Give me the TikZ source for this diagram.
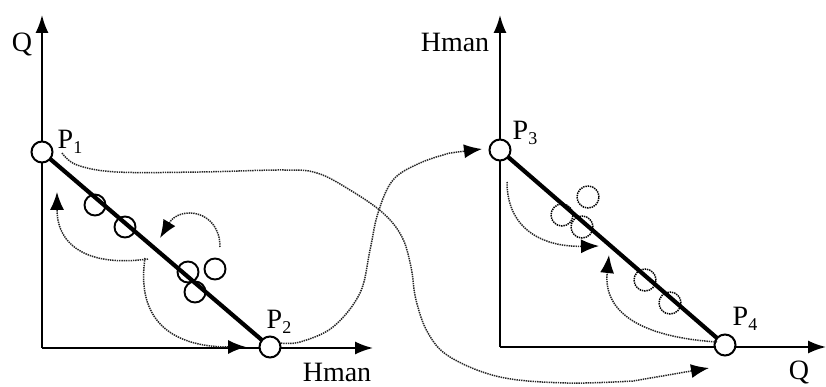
\documentclass[tikz,border=0pt]{standalone}
\usepackage{fontspec}
\setmainfont{Liberation Serif}
\usetikzlibrary{arrows.meta}
\tikzset{
  axis/.style={line width=1.8pt,-{Latex[length=18pt,width=13pt]}},
  thickline/.style={line width=4.2pt},
  pt/.style={circle,draw,line width=2pt,fill=white,minimum size=21pt,inner sep=0pt},
  mk/.style={circle,draw,line width=1.9pt,minimum size=21pt,inner sep=0pt},
  dmk/.style={circle,draw,line width=1.5pt,dash pattern=on 1.4pt off 0.9pt,minimum size=22pt,inner sep=0pt},
  dotarrow/.style={line width=1.5pt,black!85,dash pattern=on 1.4pt off 0.9pt,-{Latex[length=18pt,width=14pt,black]}},
  lbl/.style={font=\fontsize{28}{30}\selectfont,inner sep=0pt},
}
\newcommand{\psub}[2]{P\raisebox{-5pt}{\fontsize{18}{20}\selectfont #2}}
\begin{document}
\begin{tikzpicture}[x=1pt,y=1pt]
\useasboundingbox (0,0) rectangle (826,387);
% ---------- left panel ----------
\coordinate (lo) at (42,39);
\coordinate (ly) at (42,372);
\coordinate (lx) at (373,39);
\draw[axis] (lo) -- (ly);
\draw[axis] (lo) -- (lx);
\node[lbl] (lq) at (22,342) {Q};
\node[lbl] (lh) at (337,15) {Hman};
\coordinate (p1c) at (42,235);
\coordinate (p2c) at (270,40);
\draw[thickline] (p1c) -- (p2c);
\node[pt] (P1) at (p1c) {};
\node[pt] (P2) at (p2c) {};
\node[lbl] (P1l) at (70,245) {\psub{P}{1}};
\node[lbl] (P2l) at (279,65) {\psub{P}{2}};
\node[mk] (m1) at (95,182) {};
\node[mk] (m2) at (125,160) {};
\node[mk] (m3) at (188,115) {};
\node[mk] (m4) at (215,118) {};
\node[mk] (m5) at (195,95) {};
% dotted arrows left
\coordinate (a1s) at (148,128);
\coordinate (a1e) at (57,195);
\draw[dotarrow] (a1s) .. controls (90,120) and (57,140) .. (a1e);
\coordinate (a2s) at (220,140);
\coordinate (a2e) at (160,149);
\draw[dotarrow] (a2s) .. controls (220,177) and (180,182) .. (a2e);
\coordinate (a3s) at (145,129);
\coordinate (a3e) at (246,40);
\draw[dotarrow] (a3s) .. controls (135,60) and (180,40) .. (a3e);
% ---------- right panel ----------
\coordinate (ro) at (500,40);
\coordinate (ry) at (500,372);
\coordinate (rx) at (826,40);
\draw[axis] (ro) -- (ry);
\draw[axis] (ro) -- (rx);
\node[lbl] (rh) at (455,345) {Hman};
\node[lbl] (rq) at (799,14) {Q};
\coordinate (p3c) at (500,237);
\coordinate (p4c) at (725,42);
\draw[thickline] (p3c) -- (p4c);
\node[pt] (P3) at (p3c) {};
\node[pt] (P4) at (p4c) {};
\node[lbl] (P3l) at (525,254) {\psub{P}{3}};
\node[lbl] (P4l) at (745,68) {\psub{P}{4}};
\node[dmk] (d1) at (588,190) {};
\node[dmk] (d2) at (562,172) {};
\node[dmk] (d3) at (582,160) {};
\node[dmk] (d4) at (645,107) {};
\node[dmk] (d5) at (670,84) {};
\coordinate (b1s) at (507,205);
\coordinate (b1e) at (599,141);
\draw[dotarrow] (b1s) .. controls (507,160) and (540,140) .. (b1e);
\coordinate (b2s) at (717,45);
\coordinate (b2e) at (609,132);
\draw[dotarrow] (b2s) .. controls (640,50) and (603,75) .. (b2e);
% ---------- long connectors ----------
\coordinate (l1s) at (62,234);
\coordinate (l1e) at (709,19);
\draw[dotarrow] plot[smooth,tension=0.6] coordinates {(l1s) (77,222) (117,215) (200,215) (283,217) (317,214) (350,197) (383,174) (402,150) (411,120) (416,87) (428,54) (450,30) (500,10) (567,4) (633,6)} -- (l1e);
\coordinate (l2s) at (281,44);
\coordinate (l2e) at (482,238);
\draw[dotarrow] plot[smooth,tension=0.6] coordinates {(l2s) (300,45) (333,60) (360,94) (370,137) (378,174) (393,207) (420,224) (450,234)} -- (l2e);
\end{tikzpicture}
\end{document}
